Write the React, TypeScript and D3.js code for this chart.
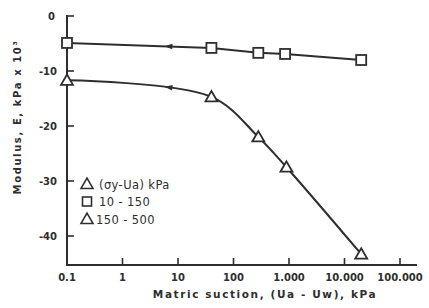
import React, { useEffect, useRef } from 'react';
import * as d3 from 'd3';

// matric suction (kPa) and modulus (kPa x 10^3)
const suctionLow = [0.1, 40, 280, 850, 20000];
const modulusLow = [-4.9, -5.8, -6.7, -6.9, -8.0];
const suctionHigh = [0.1, 40, 280, 900, 20000];
const modulusHigh = [-11.7, -14.7, -22.0, -27.5, -43.3];
const xTicks = [0.1, 1, 10, 100, 1000, 10000, 100000];
const xTickLabels = ['0.1', '1', '10', '100', '1.000', '10.000', '100.000'];
const yTicks = [0, -10, -20, -30, -40];
const legendLabels = ['(σy-Ua) kPa', '10 - 150', '150 - 500'];
const arrowAt = 7; // suction where the direction arrows sit

const ink = '#2e2e2e';
const font = "'DejaVu Sans', sans-serif";

const App: React.FC = () => {
  const svgRef = useRef<SVGSVGElement | null>(null);

  useEffect(() => {
    if (!svgRef.current) return;
    const svg = d3.select(svgRef.current);
    svg.selectAll('*').remove();

    const x = d3.scaleLog().domain([0.1, 100000]).range([67, 400]);
    const y = d3.scaleLinear().domain([0, -40]).range([16, 236]);
    const axisRight = 417;
    const axisBottom = 265;
    const axisTop = 15;

    // axes
    svg.append('path')
      .attr('d', `M${x(0.1)},${axisTop}V${axisBottom}H${axisRight}`)
      .attr('fill', 'none').attr('stroke', ink).attr('stroke-width', 2);

    svg.selectAll('.ytick').data(yTicks).enter().append('line')
      .attr('x1', x(0.1)).attr('x2', x(0.1) + 7)
      .attr('y1', (d) => y(d)).attr('y2', (d) => y(d))
      .attr('stroke', ink).attr('stroke-width', 1.6);
    svg.selectAll('.ylab').data(yTicks).enter().append('text')
      .attr('x', (d) => (d === 0 ? 55 : 57)).attr('y', (d) => y(d) + 3.5)
      .attr('text-anchor', 'end').attr('font-family', font).attr('font-size', 10)
      .attr('font-weight', 'bold').attr('fill', ink)
      .text((d) => (d === 0 ? '0' : `${d}`));

    svg.selectAll('.xtick').data(xTicks.slice(1)).enter().append('line')
      .attr('x1', (d) => x(d)).attr('x2', (d) => x(d))
      .attr('y1', axisBottom).attr('y2', axisBottom - 7)
      .attr('stroke', ink).attr('stroke-width', 1.6);
    svg.selectAll('.xlab').data(xTicks).enter().append('text')
      .attr('x', (d) => x(d)).attr('y', 281)
      .attr('text-anchor', 'middle').attr('font-family', font).attr('font-size', 10)
      .attr('font-weight', 'bold').attr('fill', ink)
      .text((d, i) => xTickLabels[i]);

    // axis titles
    svg.append('text')
      .attr('x', 265).attr('y', 298).attr('text-anchor', 'middle')
      .attr('font-family', font).attr('font-size', 10.5).attr('font-weight', 'bold')
      .attr('letter-spacing', 1.6).attr('fill', ink)
      .text('Matric suction, (Ua - Uw), kPa');
    svg.append('text')
      .attr('transform', 'translate(21,117) rotate(-90)').attr('text-anchor', 'middle')
      .attr('font-family', font).attr('font-size', 10).attr('font-weight', 'bold')
      .attr('letter-spacing', 1.6).attr('fill', ink)
      .text('Modulus, E, kPa x 10³');

    // lines
    const low = suctionLow.map((s, i) => [s, modulusLow[i]] as [number, number]);
    const high = suctionHigh.map((s, i) => [s, modulusHigh[i]] as [number, number]);
    const lineLow = d3.line<[number, number]>().x((d) => x(d[0])).y((d) => y(d[1]));
    const lineHigh = d3.line<[number, number]>().x((d) => x(d[0])).y((d) => y(d[1]))
      .curve(d3.curveCatmullRom.alpha(0.5));

    const paths = [
      svg.append('path').attr('d', lineLow(low)!),
      svg.append('path').attr('d', lineHigh(high)!),
    ];
    paths.forEach((p) => p.attr('fill', 'none').attr('stroke', ink).attr('stroke-width', 2));

    // arrows pointing left, placed on each path at arrowAt
    paths.forEach((p) => {
      const node = p.node() as SVGPathElement;
      const total = node.getTotalLength();
      const target = x(arrowAt);
      let lo = 0;
      let hi = total;
      for (let k = 0; k < 30; k++) {
        const mid = (lo + hi) / 2;
        if (node.getPointAtLength(mid).x < target) lo = mid; else hi = mid;
      }
      const pt = node.getPointAtLength(lo);
      const pt2 = node.getPointAtLength(Math.min(total, lo + 2));
      const ang = (Math.atan2(pt2.y - pt.y, pt2.x - pt.x) * 180) / Math.PI;
      svg.append('path')
        .attr('d', 'M-5,0L3,-2.8L3,2.8Z')
        .attr('transform', `translate(${pt.x},${pt.y}) rotate(${ang})`)
        .attr('fill', ink);
    });

    // markers
    const tri = d3.symbol().type(d3.symbolTriangle).size(62);
    svg.selectAll('.sq').data(low).enter().append('rect')
      .attr('x', (d) => x(d[0]) - 5).attr('y', (d) => y(d[1]) - 5)
      .attr('width', 10).attr('height', 10)
      .attr('fill', 'white').attr('stroke', ink).attr('stroke-width', 1.8);
    svg.selectAll('.tr').data(high).enter().append('path')
      .attr('d', tri()!)
      .attr('transform', (d) => `translate(${x(d[0])},${y(d[1]) + 1})`)
      .attr('fill', 'white').attr('stroke', ink).attr('stroke-width', 1.8);

    // legend
    const lg = svg.append('g').attr('transform', 'translate(87,184)');
    const legendSymbols = ['tri', 'sq', 'tri'];
    legendLabels.forEach((lab, i) => {
      const cy = i * 17.5;
      if (legendSymbols[i] === 'tri') {
        lg.append('path').attr('d', tri()!).attr('transform', `translate(0,${cy + 1})`)
          .attr('fill', 'none').attr('stroke', ink).attr('stroke-width', 1.6);
      } else {
        lg.append('rect').attr('x', -4.5).attr('y', cy - 4.5).attr('width', 9).attr('height', 9)
          .attr('fill', 'none').attr('stroke', ink).attr('stroke-width', 1.6);
      }
      lg.append('text').attr('x', i === 2 ? 9 : 12).attr('y', cy + 4.5)
        .attr('font-family', font).attr('font-size', 11.5).attr('fill', ink)
        .attr('letter-spacing', 0.4)
        .text(lab);
    });
  }, []);

  return (
    <svg ref={svgRef} width={429} height={308}
      style={{ position: 'absolute', left: 0, top: 0, background: 'white' }} />
  );
};

export default App;
